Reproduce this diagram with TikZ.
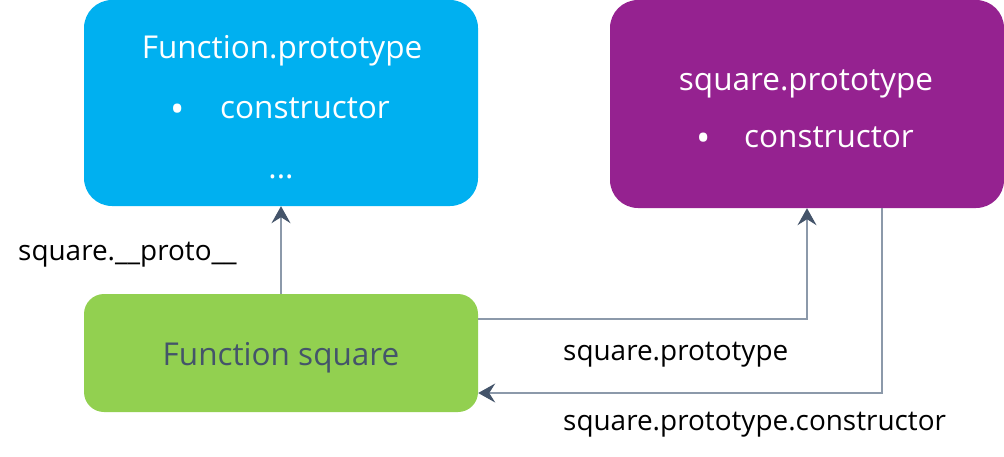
\documentclass[tikz,border=0pt]{standalone}
\usepackage{fontspec}
\setmainfont{Open Sans}
\usetikzlibrary{arrows.meta}
\definecolor{fpblue}{HTML}{00B0F0}
\definecolor{sppurple}{HTML}{952290}
\definecolor{fsgreen}{HTML}{92D050}
\definecolor{darktext}{HTML}{44546A}
\definecolor{linegray}{HTML}{8C99AA}
\tikzset{
  box/.style={rounded corners=28pt, minimum width=394pt, inner sep=0pt, draw=none},
  boxtext/.style={font=\fontsize{31.5}{36}\selectfont, text=white, inner sep=0pt, anchor=base},
  bul/.style={boxtext, font=\fontsize{38}{42}\selectfont},
  lbl/.style={font=\fontsize{27.9}{32}\selectfont, text=black, inner sep=0pt, anchor=base west},
  conn/.style={draw=linegray, line width=1.3pt, -{Stealth[length=17pt,width=19pt,inset=6pt,color=darktext]}},
}
\begin{document}
\begin{tikzpicture}[x=1pt,y=-1pt]
\useasboundingbox (0,0) rectangle (1004,456);
\node[box, fill=fpblue, minimum height=206pt] (fp) at (281,103) {};
\node[box, fill=sppurple, minimum height=208pt] (sp) at (807,104) {};
\node[box, fill=fsgreen, minimum height=118pt, rounded corners=20pt] (fs) at (281,353) {};
\node[boxtext] (fpt) at (282,58) {Function.prototype};
\node[bul] (fpb) at (178,122) {•};
\node[boxtext] (fpc) at (305,118) {constructor};
\node[boxtext] (fpd) at (281,178) {...};
\node[boxtext] (spt) at (806,90) {square.prototype};
\node[bul] (spb) at (704,151) {•};
\node[boxtext] (spc) at (829,147) {constructor};
\node[boxtext, text=darktext] (fst) at (281,365) {Function square};
\node[lbl] (l1) at (18,260) {square.\_\_proto\_\_};
\node[lbl] (l2) at (563,360) {square.prototype};
\node[lbl] (l3) at (563,430) {square.prototype.constructor};
\draw[conn] (fs.north) -- (fp.south);
\draw[conn] ([yshift=34pt]fs.east) -| (sp.south);
\draw[conn] ([xshift=75pt]sp.south) |- ([yshift=-40pt]fs.east);
\end{tikzpicture}
\end{document}
